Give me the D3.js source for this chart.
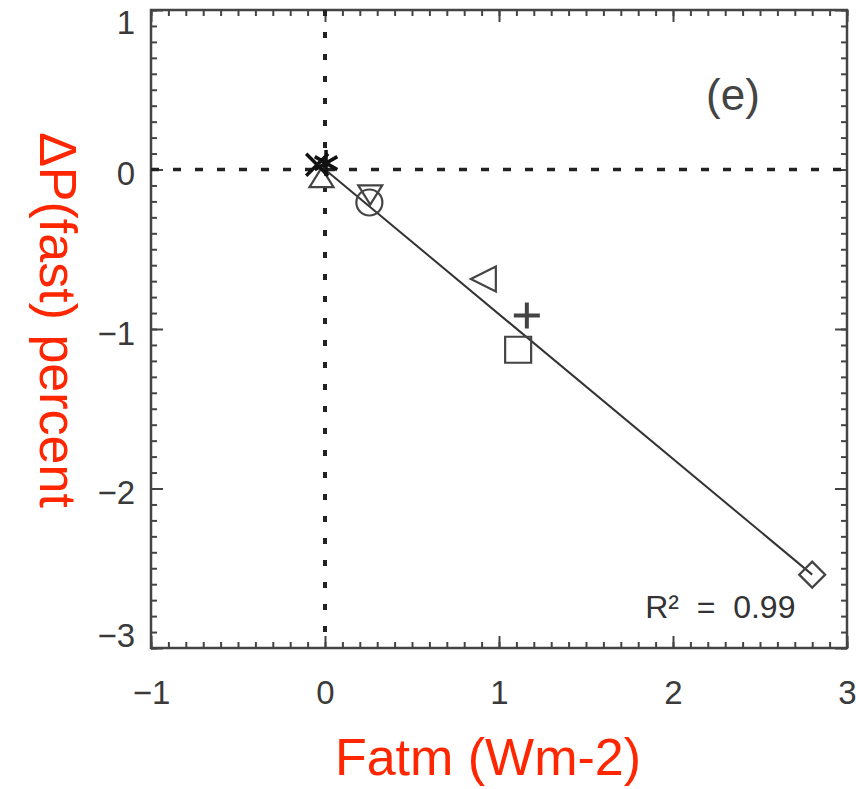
<!DOCTYPE html>
<html>
<head>
<meta charset="utf-8">
<script src="https://cdn.jsdelivr.net/npm/d3@7"></script>
<style>
  body { margin: 0; background: #fff; }
  text { font-family: "Liberation Sans", Arial, sans-serif; }
</style>
</head>
<body>
<div id="chart"></div>
<script>
// data
var fatm    = [2.80, 1.11, 1.16, 0.91, 0.255, 0.26, -0.02, 0.006, -0.045];
var dpFast  = [-2.54, -1.13, -0.915, -0.687, -0.207, -0.16, -0.05, 0.04, 0.03];
var markers = ["diamond", "square", "plus", "triLeft", "circle", "triDown", "triUp", "star", "cross"];
var fitX = [0, 2.80];
var fitY = [0, -2.54];
var xTicks = [-1, 0, 1, 2, 3];
var yTicks = [-3, -2, -1, 0, 1];
var rSquared = "0.99";
var panelLabel = "(e)";

var svgWidth = 856;
var svgHeight = 789;

var margin = { top: 10, right: 9, bottom: 141, left: 151 };
var chartWidth = svgWidth - margin.left - margin.right;
var chartHeight = svgHeight - margin.top - margin.bottom;

var svg = d3.select("#chart")
    .append("svg")
    .attr("width", svgWidth)
    .attr("height", svgHeight);

var chartGroup = svg.append("g")
    .attr("transform", `translate(${margin.left}, ${margin.top})`);

var xScale = d3.scaleLinear().domain([-1, 3]).range([0, chartWidth]);
var yScale = d3.scaleLinear().domain([-3, 1]).range([chartHeight, 0]);

var axisColor = "#444";
var fmt = d3.format("d");

// minor + major ticks on all 4 sides, pointing inward
var minorX = d3.range(-1, 3.0001, 0.1);
var minorY = d3.range(-3, 1.0001, 0.1);

function styleAxis(g) {
    g.select(".domain").remove();
    g.selectAll("line").attr("stroke", axisColor).attr("stroke-width", 2);
    g.selectAll("text").remove();
}

chartGroup.append("g").attr("transform", `translate(0, ${chartHeight})`)
    .call(d3.axisBottom(xScale).tickValues(minorX).tickSize(-6)).call(styleAxis);
chartGroup.append("g").attr("transform", `translate(0, ${chartHeight})`)
    .call(d3.axisBottom(xScale).tickValues(xTicks).tickSize(-12)).call(styleAxis);
chartGroup.append("g")
    .call(d3.axisTop(xScale).tickValues(minorX).tickSize(-6)).call(styleAxis);
chartGroup.append("g")
    .call(d3.axisTop(xScale).tickValues(xTicks).tickSize(-12)).call(styleAxis);
chartGroup.append("g")
    .call(d3.axisLeft(yScale).tickValues(minorY).tickSize(-6)).call(styleAxis);
chartGroup.append("g")
    .call(d3.axisLeft(yScale).tickValues(yTicks).tickSize(-12)).call(styleAxis);
chartGroup.append("g").attr("transform", `translate(${chartWidth}, 0)`)
    .call(d3.axisRight(yScale).tickValues(minorY).tickSize(-6)).call(styleAxis);
chartGroup.append("g").attr("transform", `translate(${chartWidth}, 0)`)
    .call(d3.axisRight(yScale).tickValues(yTicks).tickSize(-12)).call(styleAxis);

// frame
chartGroup.append("rect")
    .attr("width", chartWidth)
    .attr("height", chartHeight)
    .attr("fill", "none")
    .attr("stroke", axisColor)
    .attr("stroke-width", 2.5);

// tick labels
var xLab = chartGroup.append("g").attr("transform", `translate(0, ${chartHeight})`)
    .call(d3.axisBottom(xScale).tickValues(xTicks).tickSize(0).tickPadding(33).tickFormat(fmt));
xLab.select(".domain").remove();
xLab.selectAll("text").attr("font-size", 33).attr("fill", "#3a3a3a")
    .attr("font-family", "'Liberation Sans', Arial, sans-serif");

var yLab = chartGroup.append("g")
    .call(d3.axisLeft(yScale).tickValues(yTicks).tickSize(0).tickPadding(16).tickFormat(fmt));
yLab.select(".domain").remove();
// labels sit a bit inside the end ticks, like the original
yLab.selectAll(".tick").attr("transform", function (d) {
    var y = Math.min(Math.max(yScale(d) + 5, 13), chartHeight - 12);
    return `translate(0, ${y})`;
});
yLab.selectAll("text").attr("font-size", 33).attr("fill", "#3a3a3a")
    .attr("font-family", "'Liberation Sans', Arial, sans-serif");

// zero lines
chartGroup.append("line")
    .attr("x1", 0).attr("x2", chartWidth)
    .attr("y1", yScale(0)).attr("y2", yScale(0))
    .attr("stroke", "#222").attr("stroke-width", 3.5)
    .attr("stroke-dasharray", "8,14");

chartGroup.append("line")
    .attr("x1", xScale(0)).attr("x2", xScale(0))
    .attr("y1", 0).attr("y2", chartHeight)
    .attr("stroke", "#222").attr("stroke-width", 4)
    .attr("stroke-dasharray", "6,16");

// regression line
chartGroup.append("line")
    .attr("x1", xScale(fitX[0])).attr("y1", yScale(fitY[0]))
    .attr("x2", xScale(fitX[1])).attr("y2", yScale(fitY[1]))
    .attr("stroke", "#333").attr("stroke-width", 2);

// marker shapes
function markerPath(type) {
    var s = 12.5;
    switch (type) {
        case "diamond": s = 13; return `M0,${-s}L${s},0L0,${s}L${-s},0Z`;
        case "square": s = 13; return `M${-s},${-s}H${s}V${s}H${-s}Z`;
        case "plus": s = 13; return `M${-s},0H${s}M0,${-s}V${s}`;
        case "triLeft": return `M${-s},0L${s},${-s}L${s},${s}Z`;
        case "triDown": s = 12; return `M${-s},${-s * 0.8}H${s}L0,${s * 0.8}Z`;
        case "triUp": s = 12; return `M${-s},${s * 0.8}H${s}L0,${-s * 0.8}Z`;
        case "circle": s = 13; return `M${s},0A${s},${s} 0 1,1 ${-s},0A${s},${s} 0 1,1 ${s},0Z`;
        case "star":
            s = 13;
            var p = "";
            [90, 30, 150].forEach(function (a) {
                var r = a * Math.PI / 180;
                p += `M${-s * Math.cos(r)},${-s * Math.sin(r)}L${s * Math.cos(r)},${s * Math.sin(r)}`;
            });
            return p;
        case "cross": s = 11; return `M${-s},${-s}L${s},${s}M${-s},${s}L${s},${-s}`;
    }
}

var heavy = { star: 1, cross: 1 };

chartGroup.selectAll(".pt")
    .data(fatm)
    .enter()
    .append("path")
    .attr("class", "pt")
    .attr("transform", (d, i) => `translate(${xScale(d)}, ${yScale(dpFast[i])})`)
    .attr("d", (d, i) => markerPath(markers[i]))
    .attr("fill", "none")
    .attr("stroke", (d, i) => heavy[markers[i]] ? "#111" : "#444")
    .attr("stroke-width", (d, i) => heavy[markers[i]] ? 3.5 : (markers[i] === "plus" ? 4 : 2.2));

// annotations
chartGroup.append("text")
    .attr("x", xScale(2.19))
    .attr("y", 100)
    .attr("font-size", 44)
    .attr("fill", "#444")
    .text(panelLabel);

chartGroup.append("text")
    .attr("x", xScale(1.84))
    .attr("y", yScale(-2.81))
    .attr("font-size", 32)
    .attr("fill", "#333")
    .attr("xml:space", "preserve")
    .text("R\u00b2  =  " + rSquared);

// axis titles
svg.append("text")
    .attr("x", 488)
    .attr("y", 775)
    .attr("text-anchor", "middle")
    .attr("font-size", 52)
    .attr("fill", "#ff2600")
    .text("Fatm (Wm-2)");

svg.append("text")
    .attr("transform", "translate(40, 320) rotate(90)")
    .attr("text-anchor", "middle")
    .attr("font-size", 52)
    .attr("fill", "#ff2600")
    .text("\u0394P(fast) percent");
</script>
</body>
</html>
